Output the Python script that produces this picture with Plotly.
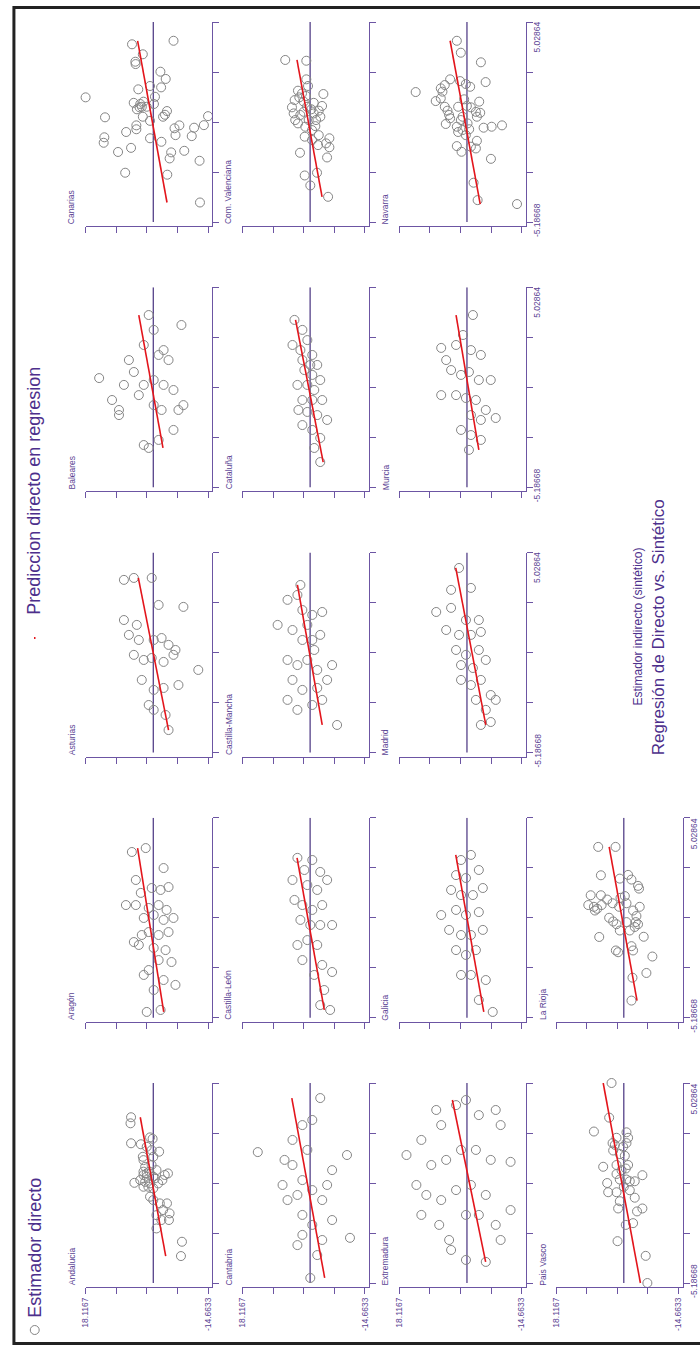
import numpy as np
import plotly.graph_objects as go

# ---------------- data ----------------
regions = ["Andalucia", "Aragón", "Asturias", "Baleares", "Canarias",
           "Cantabria", "Castilla-León", "Castilla-Mancha", "Cataluña", "Com. Valenciana",
           "Extremadura", "Galicia", "Madrid", "Murcia", "Navarra",
           "Pais Vasco", "La Rioja"]

sint_andalucia = [3.28, 2.97, 1.95, 1.90, 2.25, 2.18, 1.77, 1.60, 1.52, 1.26, 1.26, 1.09, 0.75, 0.84, 0.58, 0.50, 0.41, 0.33, 0.24, 0.24, 0.07, -0.07, -0.02, -0.10, -0.10, 0.07, -0.27, -0.35, -0.78, -0.95, -1.12, -1.12, -1.46, -1.63, -1.72, -1.97, -1.97, -2.40, -3.08, -3.81, 0.41, 0.50, 0.33, -0.27, 0.16]
dir_andalucia = [5.95, 6.10, 5.95, 3.33, 0.87, 0.18, 1.76, 0.45, -1.57, 2.80, 0.00, 2.62, 2.17, 0.45, -0.86, 2.62, -3.93, -3.07, 1.76, 0.00, 3.48, 5.06, 2.17, 0.87, -1.31, -2.44, 2.62, 0.00, 0.87, 0.00, -1.75, -3.67, -2.62, -4.37, -0.86, -4.19, -2.17, -0.86, -7.68, -7.41, 1.76, 1.05, 2.62, 1.31, -0.45]

sint_aragon = [3.28, 3.48, 1.85, 2.46, 1.19, 1.44, 1.34, 1.49, 0.57, 0.57, 0.42, 0.57, 0.32, -0.09, 0.06, -0.19, -0.09, -0.96, -0.81, -0.96, -0.81, -1.47, -1.62, -1.73, -1.32, -2.24, -2.34, -2.75, -3.00, -3.26, -3.77, -3.51, -4.79, -4.89]
dir_aragon = [5.73, 2.02, 4.67, -2.76, 3.34, 0.42, -1.96, -4.09, 7.33, 4.67, 1.22, -1.43, -3.56, 2.55, -0.11, -2.76, -5.41, 3.08, 1.22, -1.43, -4.09, 3.87, -0.11, -3.29, 5.20, -1.43, -4.88, 1.22, 2.55, -2.76, -0.11, -5.94, -1.96, 1.75]

sint_asturias = [3.63, 3.73, 3.73, 1.58, 1.33, 2.35, 2.25, 0.82, 0.56, 0.56, 0.66, 0.31, 0.05, -0.20, -0.46, -0.36, -0.56, -0.20, -0.97, -1.48, -1.99, -1.89, -1.74, -2.76, -3.01, -3.27, -4.04]
dir_asturias = [7.86, 5.20, 0.42, 7.86, 4.41, -1.43, -8.07, 6.53, 3.87, -0.11, -2.23, -4.09, -5.94, 5.20, 2.55, 0.42, -2.76, -5.41, -12.05, 3.08, -0.11, -2.76, -6.74, 1.22, -0.11, -3.29, -4.09]

sint_baleares = [0.39, -0.73, -1.24, -1.50, 1.31, 2.08, 3.61, 2.85, 1.57, 1.82, 1.31, 3.10, 0.04, 0.29, 0.04, -0.22, -1.24, -0.99, -0.99, -1.24, -2.26, -3.03, -3.18, -2.77, 0.04, 0.70, -0.48]
dir_baleares = [14.49, 11.04, 9.18, 9.18, 6.53, 2.55, 1.22, -0.11, -1.43, -2.76, -4.09, -7.54, 2.55, -0.11, -2.76, -5.41, -6.74, -8.07, -0.11, -2.23, -5.41, 2.55, 1.22, -1.43, 7.86, 5.20, 3.87]

sint_canarias = [4.07, 3.89, 3.38, 3.00, 2.88, 2.49, 2.12, 1.76, 1.69, 1.59, 1.21, 1.18, 0.90, 0.96, 0.84, 0.67, 0.57, 0.70, 0.19, 0.16, 0.48, 0.29, 0.19, 0.22, -0.02, -0.25, -0.45, -0.59, -0.25, -0.40, -0.24, -0.37, -0.86, -1.14, -0.91, -1.09, -0.75, -0.80, -1.61, -1.40, -1.63, -1.94, -1.55, -2.06, -2.67, -2.77, -4.19, 0.70, 0.84]
dir_canarias = [-5.42, 5.69, 2.80, 4.80, 4.72, -1.91, -3.33, 0.87, -2.10, 4.01, -0.45, 18.1167, 5.24, 2.62, -0.18, 3.67, 4.38, 3.07, 2.80, 12.92, -3.67, -3.14, -2.62, -14.6633, 0.87, 4.53, 4.53, 7.26, -6.99, -5.69, -13.55, -10.93, 13.10, 13.28, 0.87, -2.17, -5.95, -10.30, 9.43, 5.95, -4.79, -4.38, -8.30, -12.39, 7.52, -3.75, -12.50, 1.76, 3.48]

sint_cantabria = [1.50, 1.10, 2.12, 2.88, 3.14, 4.26, 1.35, 0.58, 0.07, -0.44, -0.69, -0.95, -0.95, -1.71, -2.22, -1.97, -2.99, -2.88, -3.25, -3.76, -4.93, 0.84, 1.61, -0.18, -0.18, -2.73]
dir_cantabria = [14.01, 6.85, 4.72, 2.07, -0.58, -2.71, -9.87, -5.89, 2.07, -0.58, 3.40, -3.24, 6.05, 2.07, -0.58, -5.89, -3.24, -10.67, 3.40, -1.91, -0.05, 4.72, 0.74, 7.38, -4.56, 2.07]

sint_castleon = [2.98, 2.87, 2.36, 2.26, 1.85, 1.59, 1.34, 1.85, 0.83, 0.57, 0.32, 0.57, -0.19, -0.45, -0.45, -0.45, -1.47, -1.22, -1.47, -2.24, -2.49, -3.00, -2.85, -3.77, -4.54, -4.79]
dir_castleon = [3.40, -0.58, 1.54, -2.71, 4.72, 0.74, -1.91, -4.56, 4.19, 2.07, -0.58, -3.24, 2.60, -0.05, -2.71, -5.89, 3.40, 0.74, -1.91, 2.07, -3.24, -1.11, -5.89, -3.77, -2.71, -5.36]

sint_castman = [1.33, 2.61, 2.86, 2.09, 1.84, 1.99, 1.07, 0.56, 0.56, 0.82, -0.46, -0.72, -0.46, -0.97, -0.72, -1.48, -1.99, -1.89, -1.48, -2.50, -3.01, -2.76, -2.50, -3.78, 1.33, 0.05, 3.37]
dir_castman = [8.70, 6.05, 3.40, 2.07, -0.58, -3.24, 4.72, 2.07, -0.58, -2.71, 6.05, 3.40, 0.74, -1.91, -5.89, 4.72, 2.07, -1.91, -4.56, 6.05, 3.40, -0.58, -3.24, -7.22, 0.74, -1.11, 2.60]

sint_cataluna = [3.36, 2.85, 2.08, 2.33, 1.82, 1.57, 1.31, 1.06, 1.06, 0.80, 0.55, 0.29, 0.04, 0.04, -0.22, -0.73, -0.73, -0.73, -1.24, -1.34, -1.50, -1.75, -2.01, -2.26, -2.67, -3.18, -3.90]
dir_cataluna = [4.19, 2.07, 4.72, 0.74, 2.60, -0.58, 2.07, -0.05, -1.91, 1.54, -0.58, -2.71, 3.40, 0.74, -1.11, 2.07, -0.58, -3.24, 3.13, 0.74, -1.91, -4.56, 2.07, -0.58, -2.71, -1.11, -2.71]

sint_comval = [3.09, 3.05, 2.10, 1.76, 1.35, 1.52, 1.38, 1.04, 1.18, 1.25, 0.67, 0.96, 0.90, 0.74, 0.36, 0.44, 0.57, 0.50, 0.19, 0.02, -0.15, 0.02, 0.02, -0.32, -0.29, -0.49, -0.83, -0.75, -0.91, -1.17, -1.26, -1.00, -1.37, -1.89, -1.65, -2.81, -2.67, -3.32, -3.90, 0.28, 0.70, 0.36]
dir_comval = [6.66, 1.02, 1.02, 0.56, -3.55, 3.25, 2.18, 4.14, 2.90, 1.10, 4.86, 1.72, -0.97, -3.20, 4.41, 1.72, -0.32, -2.31, -2.74, 3.98, 3.25, 0.38, -1.59, 1.29, -1.40, -0.51, 1.45, -2.31, -5.16, -4.27, -2.12, -0.51, -5.16, -4.54, 2.71, 1.45, -1.85, -0.05, -4.81, 2.63, 0.83, -0.97]

sint_extremadura = [1.35, 2.12, 3.65, 2.88, 3.90, 4.16, 3.39, 3.65, 2.88, 0.84, 1.10, 1.61, 1.61, 1.10, 1.00, -0.18, -0.69, -0.95, -0.44, -0.18, -0.69, -1.71, -2.22, -2.99, -1.71, -1.71, -2.22, -1.46, -3.50, -4.01, -4.11, -2.99]
dir_extremadura = [16.19, 12.21, 8.23, 6.90, 2.92, 0.27, -3.18, -7.70, -9.02, 9.55, 5.57, 1.59, -2.39, -6.37, -11.68, 13.54, 10.88, 6.90, 2.92, -1.06, -5.04, 12.21, 7.43, 4.78, 0.27, -3.18, -7.70, -11.68, 4.25, 0.27, -5.04, -9.02]

sint_galicia = [2.87, 3.13, 2.10, 1.95, 2.36, 1.34, 1.08, 1.08, 1.44, 0.06, 0.32, 0.06, 0.21, -0.70, -0.96, -0.96, -0.70, -1.73, -1.98, -1.73, -3.00, -3.00, -3.26, -4.28, -4.89]
dir_galicia = [1.59, -1.06, 2.92, 0.27, -3.18, 4.25, 1.59, -1.59, -4.25, 6.90, 2.92, 0.27, -3.18, 4.78, 1.59, -1.06, -4.25, 2.92, 0.27, -2.39, 1.59, -1.06, -5.04, -3.18, -6.90]

sint_madrid = [4.24, 3.12, 3.22, 1.99, 2.20, 1.58, 1.58, 1.07, 0.82, 0.82, 0.97, 0.05, -0.20, 0.05, -0.72, -0.87, -0.46, -1.48, -1.74, -1.48, -2.25, -2.50, -3.01, -2.50, -3.78, -3.63]
dir_madrid = [2.12, 4.25, -1.06, 8.23, 4.25, 0.27, -3.18, 5.57, 2.12, -1.06, -3.72, 2.92, 0.27, -3.18, 1.59, -1.59, -5.04, 1.59, -1.06, -3.72, -6.37, -2.39, -5.04, -7.70, -3.72, -6.37]

sint_murcia = [1.93, 1.31, 2.08, 2.59, 1.82, 1.57, 0.80, 0.55, 0.70, 0.29, 0.29, -0.48, -0.48, -0.63, -0.73, -1.24, -1.50, -1.75, -1.65, -2.26, -2.52, -2.77, -3.28, 3.61]
dir_murcia = [6.90, 5.57, 2.92, 1.06, -1.06, -3.72, 4.25, 1.59, -0.53, -3.18, -6.37, 6.90, 2.92, 0.27, -2.39, -5.04, -1.06, -3.72, -7.70, 1.59, -1.06, -3.72, -0.53, -1.59]

sint_navarra = [4.07, 3.46, 2.97, 1.96, 2.10, 2.01, 1.45, 1.64, 1.81, 1.47, 1.72, 1.86, 0.99, 1.13, 0.70, 0.50, 0.28, 0.11, -0.18, 0.70, 1.08, 0.74, 0.67, 0.44, 0.96, 0.39, 0.19, 0.19, 0.02, -0.32, -0.59, -0.75, -0.45, -0.37, -0.32, -0.25, -1.04, -1.31, -1.60, -1.34, -1.43, -1.96, -3.18, -4.07, -4.27, -0.49, -0.15]
dir_navarra = [2.71, 1.64, -3.73, -5.00, 4.51, 1.83, 13.73, 7.01, 5.94, 6.56, -0.86, 0.30, 8.36, 7.01, 5.94, 5.21, 4.78, 4.51, 5.67, 2.36, 0.75, 0.03, -1.05, -2.39, -3.28, -3.55, -2.66, 1.18, 1.64, 2.71, 2.36, 0.30, -0.59, -4.46, -6.61, -9.38, -2.66, 2.71, 1.45, -1.05, -2.39, -6.42, -1.77, -2.85, -13.40, 1.18, -0.16]

sint_paisvasco = [5.02864, 3.26, 2.55, 2.51, 2.23, 2.23, 1.87, 1.96, 1.58, 1.40, 1.31, 0.75, 0.84, 0.84, 0.57, 0.38, 0.32, -0.08, 0.10, 0.10, 0.01, -0.55, -0.55, -0.27, -0.45, -1.01, -0.83, -1.38, -1.53, -1.38, -2.13, -2.22, -3.05, -3.80, -5.18668, 1.96, 1.77, 0.66, 0.01]
dir_paisvasco = [3.28, 3.92, 8.00, -0.72, -1.15, 1.95, 2.40, -0.72, 2.85, 1.07, -0.27, 5.52, 1.95, -1.15, 0.61, 1.95, -4.98, 4.45, 1.07, -0.72, -2.93, 4.18, 1.95, 0.00, -1.60, 1.07, -2.93, -4.98, -3.54, 1.52, -2.48, -0.53, 1.68, -5.86, -6.31, 3.01, 0.19, -0.53, -1.60]

sint_larioja = [3.54, 3.54, 2.09, 1.92, 2.11, 1.87, 1.55, 1.41, 1.07, 1.07, 0.57, 0.48, 0.29, 0.38, 0.57, 0.85, 0.66, 0.94, 1.03, 0.66, 0.48, 0.29, 0.48, 0.01, -0.08, -0.27, -0.41, -0.30, -0.30, -0.41, -0.55, -0.73, -0.73, -1.06, -1.05, -1.75, -1.84, -1.75, -1.53, -2.06, -2.90, -3.14, -4.31]
dir_larioja = [6.85, 2.21, 6.13, 1.07, -1.15, -2.05, -3.81, -4.08, 8.87, 6.13, 9.51, 8.00, 7.73, 7.12, 5.94, 4.45, 3.01, 0.88, -0.27, -0.72, 1.25, -2.48, -4.26, -3.38, 3.92, 2.85, 1.95, -0.72, -3.20, -3.81, -2.93, 1.07, -1.60, 6.58, -5.33, 2.13, 1.52, -2.48, -2.05, -7.65, -6.05, -2.32, -2.05]

# regression predictions of the direct estimator at the lowest / highest synthetic value
fit_at_min = [-3.33, -2.8, -4.09, -2.6, -3.67, -3.9, -3.8, -3.24, -3.5, -3.20, -5.0, -4.5, -5.04, -3.18, -3.55, -4.45, -3.54]
fit_at_max = [3.48, 4.2, 4.0, 3.87, 4.19, 4.9, 3.5, 3.4, 3.9, 3.52, 3.9, 3.0, 3.0, 2.92, 4.51, 5.52, 3.92]

sint_all = [sint_andalucia, sint_aragon, sint_asturias, sint_baleares, sint_canarias,
            sint_cantabria, sint_castleon, sint_castman, sint_cataluna, sint_comval,
            sint_extremadura, sint_galicia, sint_madrid, sint_murcia, sint_navarra,
            sint_paisvasco, sint_larioja]
dir_all = [dir_andalucia, dir_aragon, dir_asturias, dir_baleares, dir_canarias,
           dir_cantabria, dir_castleon, dir_castman, dir_cataluna, dir_comval,
           dir_extremadura, dir_galicia, dir_madrid, dir_murcia, dir_navarra,
           dir_paisvasco, dir_larioja]

S_MIN, S_MAX = -5.18668, 5.02864
D_MAX, D_MIN = 18.1167, -14.6633
s_tick_labels = ["-5.18668", "5.02864"]
d_tick_labels = ["18.1167", "-14.6633"]
ref_line_value = 0

# ---------------- styling / geometry ----------------
W, H = 700, 1348
FONT = "Liberation Sans"
PURPLE = "#6c55a3"
TXT = "#5b4494"
TITLE = "#4d2f8c"
DARK_LINE = "#47317f"
GRAY = "#858585"
RED = "#e3151c"

ROW_LEFT0, ROW_STEP, PW = 81.3, 158.2, 123.5
COL_TOP_LAST, COL_STEP, PH = 22.0, 265.25, 200.0
OFF = 4.0

s_ticks = list(np.linspace(S_MIN, S_MAX, 5))
d_ticks = list(np.linspace(D_MAX, D_MIN, 5))
d_per_px = (D_MAX - D_MIN) / PW
s_per_px = (S_MAX - S_MIN) / PH

fig = go.Figure()
annotations = []
shapes = []

def px(x):
    return x / W

def py(y):
    return 1 - y / H

for i, name in enumerate(regions):
    r, c = divmod(i, 5)
    XL = ROW_LEFT0 + ROW_STEP * r
    XR = XL + PW
    YT = COL_TOP_LAST + COL_STEP * (4 - c)
    YB = YT + PH
    k = i + 1
    xa = "xaxis" if k == 1 else f"xaxis{k}"
    ya = "yaxis" if k == 1 else f"yaxis{k}"
    xr = "x" if k == 1 else f"x{k}"
    yr = "y" if k == 1 else f"y{k}"

    show_d_labels = (c == 0)
    last_in_col = (i + 5 >= len(regions))

    fig.update_layout({
        xa: dict(domain=[px(XL), px(XR + OFF)], range=[D_MAX, D_MIN - OFF * d_per_px],
                 anchor=yr, showgrid=False, zeroline=False, showline=True,
                 linecolor=PURPLE, linewidth=1.3, ticks="outside", ticklen=6,
                 tickwidth=1.3, tickcolor=PURPLE, tickvals=d_ticks,
                 ticktext=[d_tick_labels[0], "", "", "", d_tick_labels[1]] if show_d_labels else [""] * 5,
                 tickangle=-90, tickfont=dict(family=FONT, size=8.5, color=TXT), fixedrange=True),
        ya: dict(domain=[py(YB + OFF), py(YT)], range=[S_MIN - OFF * s_per_px, S_MAX],
                 anchor=xr, side="right", showgrid=False, zeroline=False, showline=True,
                 linecolor=PURPLE, linewidth=1.3, ticks="outside", ticklen=6,
                 tickwidth=1.3, tickcolor=PURPLE, tickvals=s_ticks, ticktext=[""] * 5,
                 fixedrange=True),
    })

    fig.add_trace(go.Scatter(x=[ref_line_value, ref_line_value], y=[S_MIN, S_MAX], mode="lines",
                             line=dict(color=DARK_LINE, width=1.2), xaxis=xr, yaxis=yr,
                             showlegend=False, hoverinfo="skip"))
    fig.add_trace(go.Scatter(x=dir_all[i], y=sint_all[i], mode="markers",
                             marker=dict(symbol="circle-open", size=9, color=GRAY, line=dict(width=1)),
                             xaxis=xr, yaxis=yr, showlegend=False, cliponaxis=False, name=name))
    fig.add_trace(go.Scatter(x=[fit_at_min[i], fit_at_max[i]], y=[min(sint_all[i]), max(sint_all[i])],
                             mode="lines", line=dict(color=RED, width=1.6),
                             xaxis=xr, yaxis=yr, showlegend=False, cliponaxis=False))

    annotations.append(dict(text=name, x=px(XL - 14), y=py(YB + OFF + 0.5), xref="paper", yref="paper",
                            xanchor="center", yanchor="bottom", textangle=-90, showarrow=False,
                            font=dict(family=FONT, size=8.5, color=TXT)))
    if last_in_col:
        annotations.append(dict(text=s_tick_labels[1], x=px(XR + OFF + 11.5), y=py(YT - 2),
                                xref="paper", yref="paper", xanchor="center", yanchor="top",
                                textangle=-90, showarrow=False,
                                font=dict(family=FONT, size=8.5, color=TXT)))
        annotations.append(dict(text=s_tick_labels[0], x=px(XR + OFF + 11.5), y=py(YB - 2),
                                xref="paper", yref="paper", xanchor="center", yanchor="middle",
                                textangle=-90, showarrow=False,
                                font=dict(family=FONT, size=8.5, color=TXT)))

shapes.append(dict(type="circle", xref="paper", yref="paper",
                   x0=px(25.5), x1=px(34.5), y0=py(1334.5), y1=py(1325.5),
                   line=dict(color=GRAY, width=1)))
annotations.append(dict(text="Estimador directo", x=px(30), y=py(1320), xref="paper", yref="paper",
                        xanchor="center", yanchor="bottom", textangle=-90, showarrow=False,
                        font=dict(family=FONT, size=18, color=TITLE)))
shapes.append(dict(type="line", xref="paper", yref="paper",
                   x0=px(30), x1=px(30), y0=py(639), y1=py(637), line=dict(color=RED, width=1.5)))
annotations.append(dict(text="Prediccion directo en regresion", x=px(29), y=py(617), xref="paper",
                        yref="paper", xanchor="center", yanchor="bottom", textangle=-90,
                        showarrow=False, font=dict(family=FONT, size=18, color=TITLE)))

annotations.append(dict(text="Estimador indirecto (sintético)", x=px(638), y=py(627), xref="paper",
                        yref="paper", xanchor="center", yanchor="middle", textangle=-90,
                        showarrow=False, font=dict(family=FONT, size=12, color=TITLE)))
annotations.append(dict(text="Regresión de Directo vs. Sintético", x=px(660), y=py(627), xref="paper",
                        yref="paper", xanchor="center", yanchor="middle", textangle=-90,
                        showarrow=False, font=dict(family=FONT, size=17, color=TITLE)))

shapes.append(dict(type="rect", xref="paper", yref="paper", x0=px(9), x1=px(720),
                   y0=py(1343.5), y1=py(7.5), line=dict(color="#222222", width=3)))

fig.update_layout(width=W, height=H, autosize=False, margin=dict(l=0, r=0, t=0, b=0),
                  paper_bgcolor="white", plot_bgcolor="white", showlegend=False,
                  annotations=annotations, shapes=shapes)

fig.write_html("out.html", config={"displayModeBar": False},
               post_script="document.body.style.margin='0px';document.body.style.overflow='hidden';")
